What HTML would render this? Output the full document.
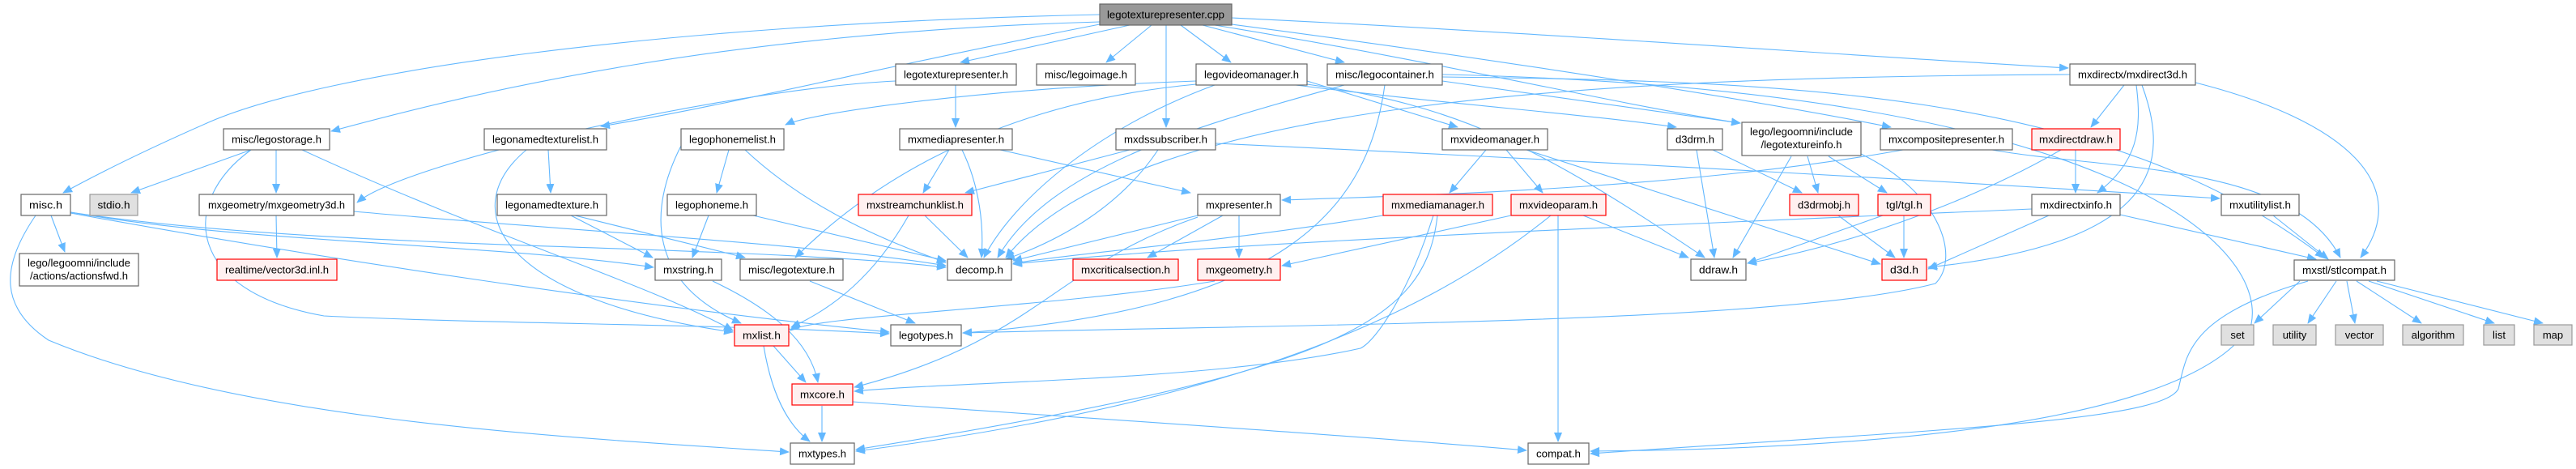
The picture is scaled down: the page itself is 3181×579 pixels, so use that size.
<!DOCTYPE html>
<html><head><meta charset="utf-8"><style>
html,body{margin:0;padding:0;background:#fff;width:3181px;height:579px;overflow:hidden}
svg{display:block}
text{font-family:"Liberation Sans",Arial,sans-serif;font-size:13px;fill:#000;text-anchor:middle}
.n{fill:#fff;stroke:#666;stroke-width:1.2}
.r{fill:#fff0f0;stroke:#f00;stroke-width:1.2}
.g{fill:#e0e0e0;stroke:#999;stroke-width:1.2}
.c{fill:#999;stroke:#666;stroke-width:1.2}
path{fill:none;stroke:#63b8ff;stroke-width:1.1;marker-end:url(#a)}
</style></head><body>
<svg width="3181" height="579" viewBox="0 0 3181 579" xmlns="http://www.w3.org/2000/svg">
<defs><marker id="a" markerWidth="12" markerHeight="10" refX="11" refY="5" orient="auto" markerUnits="userSpaceOnUse"><polygon points="0,0 12,5 0,10" fill="#63b8ff"/></marker></defs>
<g>
<path d="M1395,31 L1186,77"/>
<path d="M1422,31 L1366,77"/>
<path d="M1458,31 L1520,77"/>
<path d="M1440,31 L1440,157"/>
<path d="M1485,31 L1660,77"/>
<path d="M1521,22 C1900,40 2300,70 2554,84"/>
<path d="M1358,27 C900,40 600,110 409,162"/>
<path d="M1358,18 C800,30 400,90 260,150 C180,185 120,215 78,238"/>
<path d="M1500,31 C1800,80 2000,130 2149,152"/>
<path d="M1521,30 C1900,80 2200,130 2335,157"/>
<path d="M1358,30 C1100,80 900,130 742,156"/>
<path d="M1180,105 L1180,157"/>
<path d="M1106,100 C900,110 500,200 441,250"/>
<path d="M1477,100 C1200,110 1000,140 970,154"/>
<path d="M1614,100 L1800,157"/>
<path d="M1500,105 C1350,160 1250,250 1215,318"/>
<path d="M1600,105 C1800,130 1950,140 2070,157"/>
<path d="M1614,104 C1800,130 1900,180 2105,318"/>
<path d="M1477,104 C1200,130 1050,250 982,318"/>
<path d="M1781,100 L2149,152"/>
<path d="M1710,105 C1690,250 1600,380 1189,411"/>
<path d="M1660,105 C1500,150 1300,200 1232,318"/>
<path d="M1781,95 C2200,100 2600,110 2870,318"/>
<path d="M1781,92 C2600,110 2800,300 2780,400 C2700,540 2200,555 1964,557"/>
<path d="M2623,105 L2582,157"/>
<path d="M2638,105 C2645,160 2640,200 2590,238"/>
<path d="M2711,102 C2900,150 2980,230 2915,318"/>
<path d="M2645,105 C2680,200 2670,300 2381,330"/>
<path d="M2556,92 C2000,95 1400,120 1242,318"/>
<path d="M310,185 L162,238"/>
<path d="M341,185 L341,238"/>
<path d="M373,185 C600,290 800,350 905,408"/>
<path d="M310,185 C220,250 230,360 400,390 C600,400 900,400 1098,412"/>
<path d="M63,266 L80,311"/>
<path d="M44,266 C0,330 0,380 60,420 C300,520 700,540 974,558"/>
<path d="M87,263 C400,320 800,380 1098,410"/>
<path d="M87,262 C400,310 900,300 1168,330"/>
<path d="M87,262 C300,300 600,300 807,330"/>
<path d="M341,266 L342,318"/>
<path d="M437,261 C700,285 1000,300 1168,328"/>
<path d="M677,185 L680,238"/>
<path d="M650,185 C560,260 620,370 905,410"/>
<path d="M710,266 L920,318"/>
<path d="M705,266 L806,318"/>
<path d="M900,185 L885,238"/>
<path d="M920,185 C1000,260 1100,300 1168,324"/>
<path d="M841,180 C800,260 800,350 915,399"/>
<path d="M875,266 L855,318"/>
<path d="M930,266 L1168,322"/>
<path d="M1172,185 L1140,238"/>
<path d="M1188,185 C1210,230 1215,280 1212,318"/>
<path d="M1235,185 L1470,238"/>
<path d="M1395,185 L1192,238"/>
<path d="M1430,185 C1380,260 1300,300 1242,320"/>
<path d="M1501,177 C2000,200 2500,230 2741,245"/>
<path d="M1142,266 L1195,318"/>
<path d="M1122,266 C1080,340 1030,380 977,404"/>
<path d="M1479,266 L1251,322"/>
<path d="M1510,266 L1417,318"/>
<path d="M1530,266 L1530,318"/>
<path d="M1479,268 C1300,330 1280,420 1055,478"/>
<path d="M1835,185 L1790,238"/>
<path d="M1860,185 L1905,238"/>
<path d="M1885,185 L2322,326"/>
<path d="M1770,266 C1740,360 1700,420 1680,430 C1500,470 1200,470 1055,483"/>
<path d="M1775,266 C1760,400 1650,460 1057,555"/>
<path d="M1708,266 C1500,300 1350,310 1251,325"/>
<path d="M1924,266 L1924,545"/>
<path d="M1955,266 L2085,318"/>
<path d="M1915,266 C1750,400 1500,500 1057,557"/>
<path d="M1866,266 L1583,328"/>
<path d="M2095,185 L2117,318"/>
<path d="M2115,185 L2225,238"/>
<path d="M2232,193 L2245,238"/>
<path d="M2258,193 L2330,238"/>
<path d="M2212,193 L2140,318"/>
<path d="M2298,190 C2400,240 2420,320 2390,350 C2200,400 1600,400 1189,411"/>
<path d="M2270,266 L2340,318"/>
<path d="M2351,266 L2351,318"/>
<path d="M2325,266 L2158,325"/>
<path d="M2350,185 C2100,230 1800,240 1583,247"/>
<path d="M2460,185 C2600,210 2830,200 2890,318"/>
<path d="M2563,185 L2563,238"/>
<path d="M2545,185 C2450,240 2300,300 2158,325"/>
<path d="M2618,265 L2860,320"/>
<path d="M2530,266 L2381,332"/>
<path d="M2509,258 C2000,280 1500,300 1251,326"/>
<path d="M2807,266 L2875,320"/>
<path d="M2840,347 L2784,399"/>
<path d="M2885,347 L2850,399"/>
<path d="M2898,347 L2908,399"/>
<path d="M2910,347 L2990,399"/>
<path d="M2925,347 L3080,399"/>
<path d="M2935,347 L3140,399"/>
<path d="M2850,347 C2700,390 2700,440 2690,480 C2670,520 2400,530 1964,560"/>
<path d="M880,347 C950,380 1000,420 1010,472"/>
<path d="M1000,347 L1130,399"/>
<path d="M1500,347 C1300,380 1000,390 976,408"/>
<path d="M955,427 L995,472"/>
<path d="M943,427 C955,500 980,530 1000,545"/>
<path d="M1015,501 L1015,545"/>
<path d="M1053,496 C1400,520 1700,540 1885,556"/>
</g>
<g>
<rect class="c" x="1358" y="5" width="163" height="26"/><text x="1439.5" y="22.5" textLength="145" lengthAdjust="spacingAndGlyphs">legotexturepresenter.cpp</text>
<rect class="n" x="1106" y="79" width="149" height="26"/><text x="1180.5" y="96.5" textLength="129" lengthAdjust="spacingAndGlyphs">legotexturepresenter.h</text>
<rect class="n" x="1280" y="79" width="122" height="26"/><text x="1341" y="96.5" textLength="102" lengthAdjust="spacingAndGlyphs">misc/legoimage.h</text>
<rect class="n" x="1477" y="79" width="137" height="26"/><text x="1545.5" y="96.5" textLength="117" lengthAdjust="spacingAndGlyphs">legovideomanager.h</text>
<rect class="n" x="1639" y="79" width="142" height="26"/><text x="1710" y="96.5" textLength="122" lengthAdjust="spacingAndGlyphs">misc/legocontainer.h</text>
<rect class="n" x="2556" y="79" width="155" height="26"/><text x="2633.5" y="96.5" textLength="135" lengthAdjust="spacingAndGlyphs">mxdirectx/mxdirect3d.h</text>

<rect class="n" x="276" y="159" width="131" height="26"/><text x="341.5" y="176.5" textLength="111" lengthAdjust="spacingAndGlyphs">misc/legostorage.h</text>
<rect class="n" x="598" y="159" width="151" height="26"/><text x="673.5" y="176.5" textLength="131" lengthAdjust="spacingAndGlyphs">legonamedtexturelist.h</text>
<rect class="n" x="841" y="159" width="127" height="26"/><text x="904.5" y="176.5" textLength="107" lengthAdjust="spacingAndGlyphs">legophonemelist.h</text>
<rect class="n" x="1111" y="159" width="139" height="26"/><text x="1180.5" y="176.5" textLength="119" lengthAdjust="spacingAndGlyphs">mxmediapresenter.h</text>
<rect class="n" x="1378" y="159" width="123" height="26"/><text x="1439.5" y="176.5" textLength="103" lengthAdjust="spacingAndGlyphs">mxdssubscriber.h</text>
<rect class="n" x="1781" y="159" width="130" height="26"/><text x="1846" y="176.5" textLength="110" lengthAdjust="spacingAndGlyphs">mxvideomanager.h</text>
<rect class="n" x="2059" y="159" width="68" height="26"/><text x="2093" y="176.5" textLength="48" lengthAdjust="spacingAndGlyphs">d3drm.h</text>
<rect class="n" x="2151" y="151" width="147" height="41"/><text x="2224.5" y="167" textLength="127" lengthAdjust="spacingAndGlyphs">lego/legoomni/include</text><text x="2224.5" y="183" textLength="100" lengthAdjust="spacingAndGlyphs">/legotextureinfo.h</text>
<rect class="n" x="2322" y="159" width="163" height="26"/><text x="2403.5" y="176.5" textLength="143" lengthAdjust="spacingAndGlyphs">mxcompositepresenter.h</text>
<rect class="r" x="2509" y="159" width="109" height="26"/><text x="2563.5" y="176.5" textLength="91" lengthAdjust="spacingAndGlyphs">mxdirectdraw.h</text>

<rect class="n" x="26" y="240" width="61" height="26"/><text x="56.5" y="257.5" textLength="41" lengthAdjust="spacingAndGlyphs">misc.h</text>
<rect class="g" x="111" y="240" width="59" height="26"/><text x="140.5" y="257.5" textLength="40" lengthAdjust="spacingAndGlyphs">stdio.h</text>
<rect class="n" x="246" y="240" width="191" height="26"/><text x="341.5" y="257.5" textLength="169" lengthAdjust="spacingAndGlyphs">mxgeometry/mxgeometry3d.h</text>
<rect class="n" x="614" y="240" width="135" height="26"/><text x="681.5" y="257.5" textLength="115" lengthAdjust="spacingAndGlyphs">legonamedtexture.h</text>
<rect class="n" x="824" y="240" width="110" height="26"/><text x="879" y="257.5" textLength="90" lengthAdjust="spacingAndGlyphs">legophoneme.h</text>
<rect class="r" x="1060" y="240" width="140" height="26"/><text x="1130" y="257.5" textLength="120" lengthAdjust="spacingAndGlyphs">mxstreamchunklist.h</text>
<rect class="n" x="1479" y="240" width="102" height="26"/><text x="1530" y="257.5" textLength="82" lengthAdjust="spacingAndGlyphs">mxpresenter.h</text>
<rect class="r" x="1708" y="240" width="135" height="26"/><text x="1775.5" y="257.5" textLength="115" lengthAdjust="spacingAndGlyphs">mxmediamanager.h</text>
<rect class="r" x="1866" y="240" width="117" height="26"/><text x="1924.5" y="257.5" textLength="97" lengthAdjust="spacingAndGlyphs">mxvideoparam.h</text>
<rect class="r" x="2210" y="240" width="85" height="26"/><text x="2252.5" y="257.5" textLength="65" lengthAdjust="spacingAndGlyphs">d3drmobj.h</text>
<rect class="r" x="2319" y="240" width="65" height="26"/><text x="2351.5" y="257.5" textLength="45" lengthAdjust="spacingAndGlyphs">tgl/tgl.h</text>
<rect class="n" x="2509" y="240" width="109" height="26"/><text x="2563.5" y="257.5" textLength="89" lengthAdjust="spacingAndGlyphs">mxdirectxinfo.h</text>
<rect class="n" x="2743" y="240" width="96" height="26"/><text x="2791" y="257.5" textLength="76" lengthAdjust="spacingAndGlyphs">mxutilitylist.h</text>

<rect class="n" x="24" y="313" width="147" height="40"/><text x="97.5" y="329" textLength="127" lengthAdjust="spacingAndGlyphs">lego/legoomni/include</text><text x="97.5" y="345" textLength="121" lengthAdjust="spacingAndGlyphs">/actions/actionsfwd.h</text>
<rect class="r" x="268" y="320" width="148" height="26"/><text x="342" y="337.5" textLength="128" lengthAdjust="spacingAndGlyphs">realtime/vector3d.inl.h</text>
<rect class="n" x="809" y="320" width="82" height="26"/><text x="850" y="337.5" textLength="62" lengthAdjust="spacingAndGlyphs">mxstring.h</text>
<rect class="n" x="914" y="320" width="127" height="26"/><text x="977.5" y="337.5" textLength="107" lengthAdjust="spacingAndGlyphs">misc/legotexture.h</text>
<rect class="n" x="1170" y="320" width="79" height="26"/><text x="1209.5" y="337.5" textLength="59" lengthAdjust="spacingAndGlyphs">decomp.h</text>
<rect class="r" x="1325" y="320" width="130" height="26"/><text x="1390" y="337.5" textLength="110" lengthAdjust="spacingAndGlyphs">mxcriticalsection.h</text>
<rect class="r" x="1479" y="320" width="102" height="26"/><text x="1530" y="337.5" textLength="82" lengthAdjust="spacingAndGlyphs">mxgeometry.h</text>
<rect class="n" x="2088" y="320" width="68" height="26"/><text x="2122" y="337.5" textLength="48" lengthAdjust="spacingAndGlyphs">ddraw.h</text>
<rect class="r" x="2324" y="320" width="55" height="26"/><text x="2351.5" y="337.5" textLength="35" lengthAdjust="spacingAndGlyphs">d3d.h</text>
<rect class="n" x="2833" y="321" width="124" height="25"/><text x="2895" y="338" textLength="104" lengthAdjust="spacingAndGlyphs">mxstl/stlcompat.h</text>

<rect class="r" x="907" y="401" width="67" height="26"/><text x="940.5" y="418.5" textLength="47" lengthAdjust="spacingAndGlyphs">mxlist.h</text>
<rect class="n" x="1100" y="401" width="87" height="26"/><text x="1143.5" y="418.5" textLength="67" lengthAdjust="spacingAndGlyphs">legotypes.h</text>
<rect class="g" x="2743" y="401" width="40" height="25"/><text x="2763" y="418">set</text>
<rect class="g" x="2807" y="401" width="53" height="25"/><text x="2833.5" y="418">utility</text>
<rect class="g" x="2884" y="401" width="59" height="25"/><text x="2913.5" y="418">vector</text>
<rect class="g" x="2967" y="401" width="75" height="25"/><text x="3004.5" y="418">algorithm</text>
<rect class="g" x="3067" y="401" width="38" height="25"/><text x="3086" y="418">list</text>
<rect class="g" x="3129" y="401" width="47" height="25"/><text x="3152.5" y="418">map</text>

<rect class="r" x="978" y="474" width="75" height="26"/><text x="1015.5" y="491.5" textLength="55" lengthAdjust="spacingAndGlyphs">mxcore.h</text>
<rect class="n" x="976" y="547" width="79" height="26"/><text x="1015.5" y="564.5" textLength="59" lengthAdjust="spacingAndGlyphs">mxtypes.h</text>
<rect class="n" x="1887" y="547" width="75" height="26"/><text x="1924.5" y="564.5" textLength="55" lengthAdjust="spacingAndGlyphs">compat.h</text>
</g>
</svg>
</body></html>
